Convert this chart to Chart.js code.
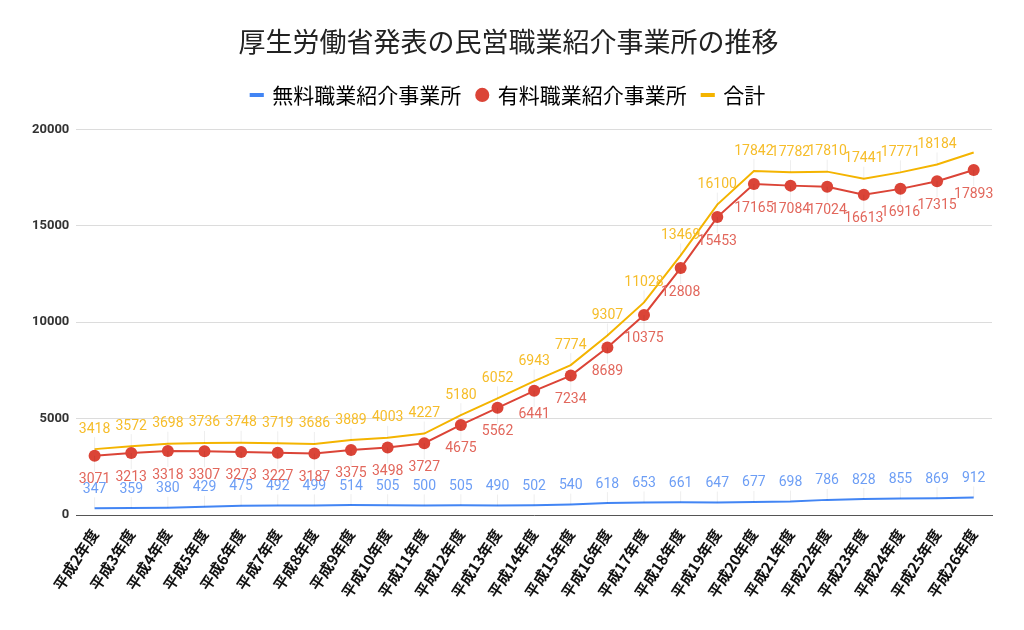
<!DOCTYPE html>
<html>
<head>
<meta charset="utf-8">
<script src="https://cdn.jsdelivr.net/npm/chart.js@4.4.0/dist/chart.umd.min.js"></script>
<style>
  html, body { margin: 0; padding: 0; background: #fff; }
  #wrap { width: 1024px; height: 630px; position: relative; }
</style>
</head>
<body>
<div id="wrap"><canvas id="chart"></canvas></div>
<script>
var years = ["平成2年度", "平成3年度", "平成4年度", "平成5年度", "平成6年度", "平成7年度", "平成8年度",
    "平成9年度", "平成10年度", "平成11年度", "平成12年度", "平成13年度", "平成14年度", "平成15年度",
    "平成16年度", "平成17年度", "平成18年度", "平成19年度", "平成20年度", "平成21年度", "平成22年度",
    "平成23年度", "平成24年度", "平成25年度", "平成26年度"];
var freeOffices = [347, 359, 380, 429, 475, 492, 499, 514, 505, 500, 505, 490, 502, 540,
    618, 653, 661, 647, 677, 698, 786, 828, 855, 869, 912];
var paidOffices = [3071, 3213, 3318, 3307, 3273, 3227, 3187, 3375, 3498, 3727, 4675, 5562, 6441, 7234,
    8689, 10375, 12808, 15453, 17165, 17084, 17024, 16613, 16916, 17315, 17893];
var totalOffices = [3418, 3572, 3698, 3736, 3748, 3719, 3686, 3889, 4003, 4227, 5180, 6052, 6943, 7774,
    9307, 11028, 13469, 16100, 17842, 17782, 17810, 17441, 17771, 18184, 18805];
var yTicks = [0, 5000, 10000, 15000, 20000];

// label offset per dataset (px, negative = above)
var labelOffsets = [-19, 24, -20];
var labelColors = ['#6d9ef5', '#e2675c', '#f6bd2a'];

var dataLabels = {
    id: 'dataLabels',
    afterDatasetsDraw: function (chart) {
        var ctx = chart.ctx;
        ctx.save();
        ctx.font = '14px Roboto';
        ctx.textAlign = 'center';
        ctx.textBaseline = 'middle';
        chart.data.datasets.forEach(function (ds, i) {
            var meta = chart.getDatasetMeta(i);
            meta.data.forEach(function (pt, j) {
                // last total label is not shown in the original
                if (i == 2 && j == ds.data.length - 1)
                    return;
                var off = labelOffsets[i];
                var ly = pt.y + off;
                ctx.strokeStyle = 'rgba(0,0,0,0.07)';
                ctx.lineWidth = 1;
                ctx.beginPath();
                ctx.moveTo(pt.x, off < 0 ? ly + 8 : ly - 8);
                ctx.lineTo(pt.x, pt.y);
                ctx.stroke();
                ctx.fillStyle = labelColors[i];
                ctx.fillText(ds.data[j], pt.x, ly);
            });
        });
        ctx.restore();
    }
};

// a bit more room between the legend and the plot
var legendGap = {
    id: 'legendGap',
    beforeInit: function (chart) {
        var fit = chart.legend.fit;
        chart.legend.fit = function () {
            fit.bind(chart.legend)();
            this.height += 14;
        };
    }
};

new Chart(document.getElementById('chart'), {
    type: 'line',
    data: {
        labels: years,
        datasets: [
            {
                label: '無料職業紹介事業所',
                data: freeOffices,
                borderColor: '#4285f4',
                backgroundColor: '#4285f4',
                borderWidth: 2,
                pointRadius: 0,
                pointStyle: 'line'
            },
            {
                label: '有料職業紹介事業所',
                data: paidOffices,
                borderColor: '#db4437',
                backgroundColor: '#db4437',
                borderWidth: 2,
                pointRadius: 6,
                pointHoverRadius: 6,
                pointBorderWidth: 0,
                pointStyle: 'circle'
            },
            {
                label: '合計',
                data: totalOffices,
                borderColor: '#f4b400',
                backgroundColor: '#f4b400',
                borderWidth: 2,
                pointRadius: 0,
                pointStyle: 'line'
            }
        ]
    },
    plugins: [dataLabels, legendGap],
    options: {
        responsive: true,
        maintainAspectRatio: false,
        animation: false,
        layout: {
            padding: { left: 25, right: 32, top: 14, bottom: 26 }
        },
        plugins: {
            title: {
                display: true,
                text: '厚生労働省発表の民営職業紹介事業所の推移',
                color: '#222',
                font: { family: '"Noto Sans CJK JP"', size: 27, weight: 'normal' },
                padding: { top: 12, bottom: 10 }
            },
            legend: {
                position: 'top',
                labels: {
                    color: '#222',
                    font: { family: '"Noto Sans CJK JP"', size: 21 },
                    usePointStyle: true,
                    boxWidth: 10,
                    boxHeight: 10,
                    padding: 16,
                    generateLabels: function (chart) {
                        return chart.data.datasets.map(function (ds, i) {
                            return {
                                text: ds.label,
                                fillStyle: ds.borderColor,
                                strokeStyle: ds.borderColor,
                                lineWidth: i == 1 ? 0 : 4,
                                pointStyle: i == 1 ? 'circle' : 'line',
                                datasetIndex: i
                            };
                        });
                    }
                }
            },
            tooltip: { enabled: false }
        },
        scales: {
            x: {
                offset: true,
                grid: { display: false },
                border: { color: '#555', width: 1 },
                ticks: {
                    color: '#111',
                    font: { family: '"Noto Sans CJK JP"', size: 15, weight: 'bold' },
                    maxRotation: 57,
                    minRotation: 57,
                    autoSkip: false
                }
            },
            y: {
                min: 0,
                max: 20000,
                afterBuildTicks: function (axis) {
                    axis.ticks = yTicks.map(function (v) { return { value: v }; });
                },
                grid: { color: '#dcdcdc', drawTicks: false },
                border: { display: false },
                ticks: {
                    color: '#333',
                    padding: 7,
                    font: { family: 'Roboto', size: 13, weight: 'bold' },
                    callback: function (v) { return String(v); }
                }
            }
        }
    }
});
</script>
</body>
</html>
